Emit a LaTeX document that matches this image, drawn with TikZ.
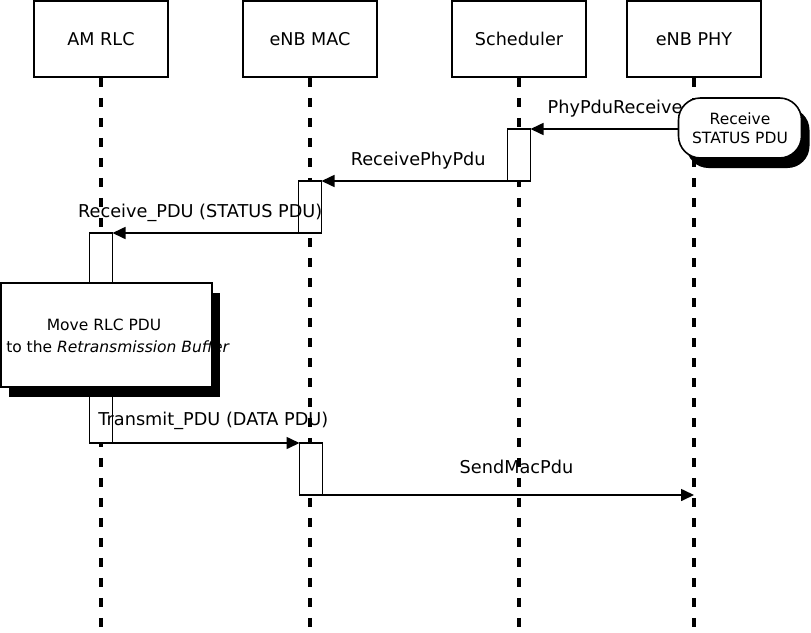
\documentclass[tikz,border=0pt]{standalone}
\usepackage{fontspec}
\setmainfont{DejaVu Sans}
\usetikzlibrary{arrows.meta,shadows}

\tikzset{
  actor/.style={draw, line width=1.6pt, minimum width=134pt, minimum height=76pt, font=\fontsize{17.6}{21}\selectfont},
  lifeline/.style={line width=3.5pt, dash pattern=on 9pt off 11pt},
  actbox/.style={draw, fill=white, line width=1.4pt, minimum width=23pt, outer sep=0pt},
  msg/.style={-{Triangle[length=13pt,width=12pt]}, line width=1.6pt},
  lbl/.style={font=\fontsize{17.7}{21}\selectfont, yshift=20pt},
  note/.style={draw, fill=white, line width=1.6pt, font=\fontsize{15.5}{19}\selectfont, align=center},
  blackshadow/.style={drop shadow={fill=black, opacity=1, shadow xshift=8pt, shadow yshift=-10pt}}
}

\begin{document}
\begin{tikzpicture}[x=1pt, y=1pt]
  \useasboundingbox (0,0) rectangle (811,-632);

  % Partecipanti
  \node[actor] (rlc) at (101,-39) {AM RLC};
  \node[actor] (mac) at (310,-39) {eNB MAC};
  \node[actor] (sched) at (519,-39) {Scheduler};
  \node[actor] (phy) at (694,-39) {eNB PHY};

  % Linee di vita
  \coordinate (rlcEnd) at (101,-632);
  \coordinate (macEnd) at (310,-632);
  \coordinate (schedEnd) at (519,-632);
  \coordinate (phyEnd) at (694,-632);
  \draw[lifeline] (rlc) -- (rlcEnd);
  \draw[lifeline] (mac) -- (macEnd);
  \draw[lifeline] (sched) -- (schedEnd);
  \draw[lifeline] (phy) -- (phyEnd);

  % Attivazioni
  \node[actbox, minimum height=52pt] (schedAct) at (519,-155) {};
  \node[actbox, minimum height=52pt] (macActA) at (310,-207) {};
  \node[actbox, minimum height=210pt] (rlcAct) at (101,-338) {};
  \node[actbox, minimum height=52pt] (macActB) at (311,-469) {};

  % Messaggi
  \coordinate (phyIn) at (phy |- schedAct.north);
  \coordinate (phyOut) at (phy |- macActB.south);
  \draw[msg] (phyIn) -- node[lbl, at end, anchor=west, xshift=13pt] {PhyPduReceived} (schedAct.north east);
  \draw[msg] (schedAct.south west) -- node[lbl, pos=0.48] {ReceivePhyPdu} (macActA.north east);
  \draw[msg] (macActA.south east) -- node[lbl, pos=0.58] {Receive\_PDU (STATUS PDU)} (rlcAct.north east);
  \draw[msg] (rlcAct.south west) -- node[lbl, pos=0.59, yshift=2pt] {Transmit\_PDU (DATA PDU)} (macActB.north west);
  \draw[msg] (macActB.south west) -- node[lbl, pos=0.55, yshift=8pt] {SendMacPdu} (phyOut);

  % Note
  \node[note, blackshadow, rounded corners=22pt, minimum width=123pt, minimum height=60pt] (statusNote) at (740,-128) {Receive\\STATUS PDU};
  \node[note, blackshadow, minimum width=211pt, minimum height=104pt] (moveBox) at (106.5,-335) {};
  \node[font=\fontsize{15.5}{19}\selectfont] (moveTextA) at (104,-325) {Move RLC PDU};
  \node[font=\fontsize{15.5}{19}\selectfont] (moveTextB) at (118,-347) {to the \textit{Retransmission Buffer}};
\end{tikzpicture}
\end{document}
